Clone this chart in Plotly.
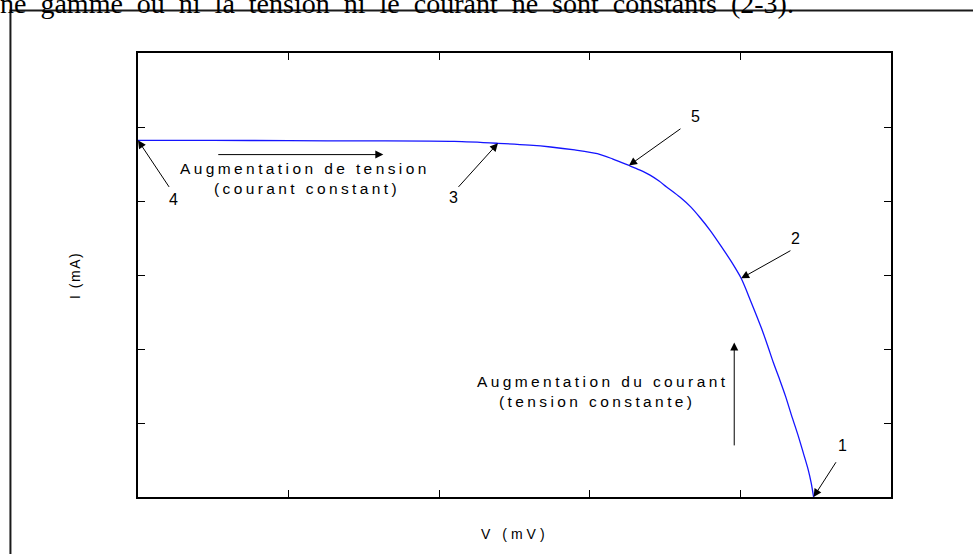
import plotly.graph_objects as go

# Current-voltage characteristic (V in arbitrary divisions, I in arbitrary divisions)
V = [0.00, 0.50, 1.00, 1.50, 2.10, 2.39, 2.60, 2.74, 2.90, 3.05, 3.15, 3.26, 3.33,
     3.40, 3.46, 3.51, 3.60, 3.67, 3.73, 3.80, 3.875, 3.94, 4.005, 4.07, 4.14,
     4.18, 4.22, 4.26, 4.30, 4.34, 4.385, 4.42, 4.45, 4.47, 4.486]
I = [4.82, 4.82, 4.815, 4.812, 4.805, 4.78, 4.755, 4.73, 4.69, 4.64, 4.57, 4.48, 4.42,
     4.35, 4.27, 4.19, 4.05, 3.92, 3.78, 3.60, 3.38, 3.18, 2.955, 2.64, 2.28,
     2.05, 1.81, 1.59, 1.36, 1.10, 0.82, 0.58, 0.37, 0.19, 0.00]

# Indices of the operating points that are labelled on the curve
POINTS = {"1": len(V) - 1, "2": 22, "3": 5, "4": 0, "5": 11}

X_RANGE = [0, 5]
Y_RANGE = [0, 6]
X_TICKS = [1, 2, 3, 4]
Y_TICKS = [1, 2, 3, 4, 5]

SANS = "Arial, Liberation Sans, sans-serif"
SERIF = "Times New Roman, Liberation Serif, serif"

fig = go.Figure()
fig.add_trace(go.Scatter(x=V, y=I, mode="lines", line_shape="spline",
                         line=dict(color="#1414ff", width=1.3, smoothing=0.8),
                         showlegend=False, hoverinfo="skip"))

ann = []

# Numbered pointers: (label, tail position, label position)
pointers = [
    ("4", (0.213, 4.17), (0.233, 4.02)),
    ("3", (2.119, 4.17), (2.093, 4.05)),
    ("5", (3.612, 4.99), (3.700, 5.14)),
    ("2", (4.342, 3.34), (4.369, 3.50)),
    ("1", (4.641, 0.49), (4.678, 0.69)),
]
for label, tail, pos in pointers:
    k = POINTS[label]
    ann.append(dict(x=V[k], y=I[k], xref="x", yref="y", text="",
                    showarrow=True, ax=tail[0], ay=tail[1], axref="x", ayref="y",
                    arrowhead=2, arrowsize=1.6, arrowwidth=1, arrowcolor="black",
                    standoff=0))
    ann.append(dict(x=pos[0], y=pos[1], xref="x", yref="y", text=label,
                    showarrow=False, font=dict(family=SANS, size=16, color="black")))

# Direction arrows
ann.append(dict(x=1.629, y=4.627, ax=0.523, ay=4.627, xref="x", yref="y",
                axref="x", ayref="y", text="", showarrow=True, arrowhead=2,
                arrowsize=1.6, arrowwidth=1, arrowcolor="black"))
ann.append(dict(x=3.959, y=2.087, ax=3.959, ay=0.677, xref="x", yref="y",
                axref="x", ayref="y", text="", showarrow=True, arrowhead=2,
                arrowsize=1.6, arrowwidth=1, arrowcolor="black"))

def spaced(s, ls):
    return f'<span style="letter-spacing:{ls}px">{s}</span>'

captions = [
    ("Augmentation de tension", 1.110, 4.438),
    ("(courant constant)", 1.122, 4.169),
    ("Augmentation du courant", 3.085, 1.564),
    ("(tension constante)", 3.050, 1.288),
]
for s, x, y in captions:
    ann.append(dict(x=x, y=y, xref="x", yref="y", text=spaced(s, 3.4),
                    showarrow=False, font=dict(family=SANS, size=15.5, color="black")))

# Axis titles
ann.append(dict(x=0.5, y=-0.084, xref="paper", yref="paper", xanchor="center",
                yanchor="middle", text=spaced("V (mV)", 4),
                showarrow=False, font=dict(family=SANS, size=14, color="black")))
ann.append(dict(x=-0.0837, y=0.5, xref="paper", yref="paper", xanchor="center",
                yanchor="middle", text=spaced("I (mA)", 1.5),
                textangle=-90, showarrow=False,
                font=dict(family=SANS, size=14, color="black")))

# Running text of the page above the figure
ann.append(dict(x=0.874, y=1.072, xref="paper", yref="paper", xanchor="right",
                yanchor="bottom",
                text="une\u00a0\u00a0gamme\u00a0\u00a0où\u00a0\u00a0ni\u00a0\u00a0la\u00a0\u00a0tension\u00a0\u00a0ni\u00a0\u00a0le\u00a0\u00a0courant\u00a0\u00a0ne\u00a0\u00a0sont\u00a0\u00a0constants\u00a0\u00a0(2-3).",
                showarrow=False, font=dict(family=SERIF, size=28, color="black")))

axis_common = dict(showgrid=False, zeroline=False, showticklabels=False,
                   ticks="inside", ticklen=7, tickwidth=1, tickcolor="black",
                   showline=True, linecolor="black", linewidth=2, mirror="ticks")

fig.update_layout(
    width=973, height=554,
    margin=dict(l=138, r=82, t=53, b=57),
    paper_bgcolor="white", plot_bgcolor="white",
    xaxis=dict(range=X_RANGE, tickvals=X_TICKS, **axis_common),
    yaxis=dict(range=Y_RANGE, tickvals=Y_TICKS, **axis_common),
    annotations=ann,
    shapes=[dict(type="rect", xref="paper", yref="paper",
                 x0=-0.1694, x1=1.3, y0=-0.3, y1=1.0955,
                 line=dict(color="#1a1a1a", width=2), layer="below")],
)

fig.write_html("out.html")
